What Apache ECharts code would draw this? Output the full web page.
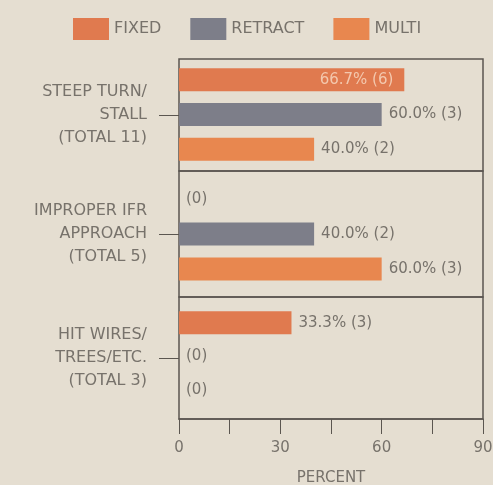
<!DOCTYPE html>
<html>
<head>
<meta charset="utf-8">
<script src="https://cdn.jsdelivr.net/npm/echarts@6/dist/echarts.min.js"></script>
<style>
  html, body { margin: 0; padding: 0; background: #e5ded1; }
  #chart { width: 493px; height: 485px; }
</style>
</head>
<body>
<div id="chart"></div>
<script>
// Accident causes, split by gear type: percent of each cause group and counts
const causes = ['STEEP TURN/\nSTALL\n(TOTAL 11)', 'IMPROPER IFR\nAPPROACH\n(TOTAL 5)', 'HIT WIRES/\nTREES/ETC.\n(TOTAL 3)'];
const seriesNames = ['FIXED', 'RETRACT', 'MULTI'];
const fixedPct = [66.7, 0, 33.3];
const fixedCount = [6, 0, 3];
const retractPct = [60.0, 40.0, 0];
const retractCount = [3, 2, 0];
const multiPct = [40.0, 60.0, 0];
const multiCount = [2, 3, 0];
const xTicks = [0, 30, 60, 90];

const pctBySeries = [fixedPct, retractPct, multiPct];
const countBySeries = [fixedCount, retractCount, multiCount];
const colors = ['#e07a4f', '#7d7e89', '#e8874f'];

const FONT = 'DejaVu Sans';
const TEXT = '#77726b';
const FRAME = '#5b5650';
const FS = 15;

// panel frames (one per cause) and the inner bar bands
const panels = [
  { top: 59, height: 112, barTop: 62.5, barHeight: 104 },
  { top: 171, height: 126, barTop: 181.5, barHeight: 105 },
  { top: 297, height: 122, barTop: 306, barHeight: 101 }
];
const LEFT = 179, RIGHT = 10;

const grid = [], xAxis = [], yAxis = [], series = [];

panels.forEach((p, i) => {
  grid.push({ left: LEFT, right: RIGHT, top: p.top, height: p.height, show: true,
    outerBoundsMode: 'none',
    borderColor: FRAME, borderWidth: 1.5, backgroundColor: 'transparent' });
  xAxis.push({ gridIndex: i, type: 'value', min: 0, max: 90, show: false });
  yAxis.push({ gridIndex: i, type: 'category', data: [causes[i]],
    axisLine: { show: false },
    axisTick: { show: true, alignWithLabel: true, length: 20, lineStyle: { color: FRAME, width: 1 } },
    axisLabel: { margin: 32, color: TEXT, fontFamily: FONT, fontSize: 16, lineHeight: 23, align: 'right' },
    splitLine: { show: false } });
});

panels.forEach((p, i) => {
  const gi = 3 + i;
  grid.push({ left: LEFT, right: RIGHT, top: p.barTop, height: p.barHeight, outerBoundsMode: 'none' });
  xAxis.push({ gridIndex: gi, type: 'value', min: 0, max: 90, show: false });
  yAxis.push({ gridIndex: gi, type: 'category', inverse: true, data: seriesNames, show: false });
  seriesNames.forEach((name, s) => {
    const data = seriesNames.map((_, k) => {
      if (k !== s) return '-';
      const v = pctBySeries[s][i];
      const n = countBySeries[s][i];
      const item = { value: v, count: n };
      if (v > 62) {
        item.label = { position: 'insideRight', distance: 11, color: '#f3c8ae' };
      }
      return item;
    });
    series.push({
      type: 'bar', name, xAxisIndex: gi, yAxisIndex: gi,
      data, barWidth: 23, barGap: '-100%',
      itemStyle: { color: colors[s] },
      label: { show: true, position: 'right', distance: 7, color: TEXT, fontFamily: FONT, fontSize: FS,
        formatter: (d) => d.value > 0 ? d.value.toFixed(1) + '% (' + d.data.count + ')' : '(' + d.data.count + ')' },
      emphasis: { disabled: true }, animation: false
    });
  });
});

// shared percent axis along the bottom of the frame
grid.push({ left: LEFT, right: RIGHT, top: 59, height: 360, outerBoundsMode: 'none' });
xAxis.push({ gridIndex: 6, type: 'value', min: 0, max: 90, interval: 15,
  axisLine: { show: true, lineStyle: { color: FRAME, width: 1.5 } },
  axisTick: { show: true, length: 15, lineStyle: { color: FRAME, width: 1 } },
  axisLabel: { margin: 22, color: TEXT, fontFamily: FONT, fontSize: FS,
    formatter: (v) => xTicks.indexOf(v) >= 0 ? String(v) : '' },
  splitLine: { show: false },
  name: 'PERCENT', nameLocation: 'middle', nameGap: 52,
  nameTextStyle: { color: TEXT, fontFamily: FONT, fontSize: FS } });
yAxis.push({ gridIndex: 6, type: 'value', show: false });

const chart = echarts.init(document.getElementById('chart'), null, { renderer: 'canvas' });
chart.setOption({
  backgroundColor: '#e5ded1',
  animation: false,
  legend: {
    data: seriesNames, left: 68, top: 13, icon: 'rect', itemWidth: 36, itemHeight: 22, itemGap: 29,
    textStyle: { color: TEXT, fontFamily: FONT, fontSize: 16 }, selectedMode: false
  },
  grid, xAxis, yAxis, series
});
</script>
</body>
</html>
